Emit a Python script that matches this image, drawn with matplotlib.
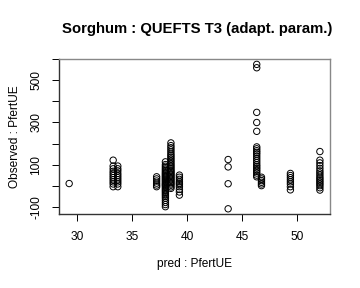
import numpy as np
import matplotlib.pyplot as plt

plt.rcParams['font.family'] = ['Liberation Sans', 'DejaVu Sans']

# predicted PfertUE (x) with observed PfertUE (y), read column by column
x_29 = [29.25]
y_29 = [10]
x_33a = [33.25] * 11
y_33a = [121, 93, 80, 68, 58, 48, 38, 28, 18, 8, -5]
x_33b = [33.67] * 10
y_33b = [93, 80, 70, 58, 48, 38, 28, 18, 8, -5]
x_37 = [37.2] * 6
y_37 = [42, 32, 22, 12, 3, -5]
x_38a = [38.0] * 34
y_38a = [113, 100, 92, 85, 78, 72, 66, 60, 55, 50, 45, 40, 35, 30, 25, 20, 15,
         10, 6, 2, -2, -8, -14, -20, -26, -32, -38, -45, -52, -60, -70, -80,
         -90, -100]
x_38b = [38.5] * 30
y_38b = [203, 190, 180, 170, 160, 150, 142, 134, 126, 118, 110, 102, 95, 88,
         81, 74, 68, 62, 56, 50, 44, 38, 32, 26, 20, 14, 8, 2, -6, -13]
x_39 = [39.27] * 10
y_39 = [50, 40, 30, 20, 12, 5, -5, -18, -30, -45]
x_43 = [43.7] * 4
y_43 = [124, 89, 9, -110]
x_46a = [46.3] * 22
y_46a = [576, 560, 348, 300, 258, 184, 175, 166, 158, 150, 140, 130, 120, 110,
         100, 92, 84, 76, 68, 60, 50, 42]
x_46b = [46.73] * 6
y_46b = [40, 32, 24, 16, 8, 0]
x_49 = [49.36] * 8
y_49 = [58, 48, 38, 28, 18, 8, -5, -20]
x_52 = [52.04] * 16
y_52 = [162, 121, 108, 95, 82, 70, 60, 50, 40, 32, 24, 16, 8, 0, -10, -21]

xs = x_29 + x_33a + x_33b + x_37 + x_38a + x_38b + x_39 + x_43 + x_46a + x_46b + x_49 + x_52
ys = y_29 + y_33a + y_33b + y_37 + y_38a + y_38b + y_39 + y_43 + y_46a + y_46b + y_49 + y_52

fig = plt.figure(figsize=(3.6, 2.88), dpi=100)
ax = fig.add_axes([0.164, 0.257, 0.753, 0.537])

ax.scatter(xs, ys, s=21, facecolors='none', edgecolors='black', linewidths=0.7)

ax.set_xlim(28.33, 52.97)
ax.set_ylim(-134.6, 598)
ax.set_xticks([30, 35, 40, 45, 50])
ax.set_yticks([-100, 0, 100, 200, 300, 400, 500, 600])
ax.set_yticklabels(['-100', '', '100', '', '300', '', '500', ''],
                   rotation=90, va='center')
ax.tick_params(direction='out', length=5, width=0.7, labelsize=8.6, pad=7)
ax.tick_params(axis='x', pad=7)

for s in ['top', 'right']:
    ax.spines[s].set_color('#888888')
for s in ['left', 'bottom']:
    ax.spines[s].set_color('#333333')
for s in ax.spines.values():
    s.set_linewidth(1.0)

ax.set_xlabel('pred : PfertUE', fontsize=8.6, labelpad=11)
ax.set_ylabel('Observed : PfertUE', fontsize=8.6, labelpad=7)
fig.text(0.548, 0.9, 'Sorghum : QUEFTS T3 (adapt. param.)', ha='center',
         va='center', fontsize=10.7, fontweight='bold')

fig.savefig('out.png', dpi=100)
